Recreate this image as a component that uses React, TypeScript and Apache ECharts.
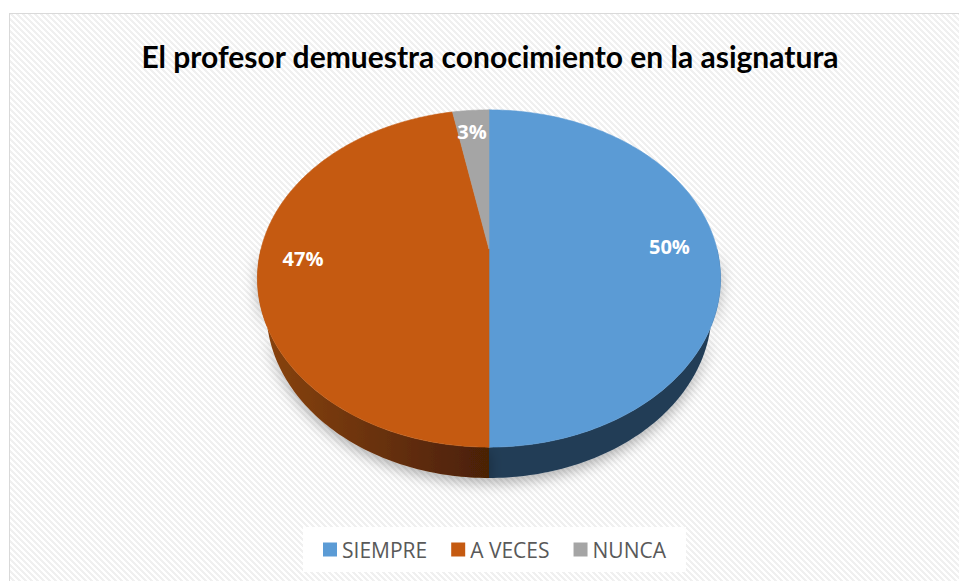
import React, { useEffect, useRef } from "react";
import * as echarts from "echarts";

// ---- data ----
const categories = ["SIEMPRE", "A VECES", "NUNCA"];
const values = [50, 47, 3];
const titleText = "El profesor demuestra conocimiento en la asignatura";

// ---- style ----
const topColors = ["#5B9BD5", "#C55A11", "#A5A5A5"];
const sideFills: any[] = [
  "#243E57",
  {
    type: "linear",
    x: 0,
    y: 0,
    x2: 1,
    y2: 0,
    colorStops: [
      { offset: 0, color: "#8A4411" },
      { offset: 1, color: "#4A2006" },
    ],
  },
  "#5E5E5E",
];

// perspective projection parameters (pixels)
const CX = 489;
const CY = 249;
const S = 228;
const SIN_A = 0.717;
const COS_A = 0.697;
const RP = 0.251;
const H = 0.216;
const LABEL_R = 0.8;

function proj(thetaDeg: number, rho: number, y: number): number[] {
  const t = (thetaDeg * Math.PI) / 180;
  const X = rho * Math.sin(t);
  const Z = rho * Math.cos(t);
  const v = y * COS_A + Z * SIN_A;
  const k = 1 + RP * (Z * COS_A - y * SIN_A);
  return [CX + (S * X) / k, CY - (S * v) / k];
}

const total = values.reduce((a, b) => a + b, 0);
const cumulative: number[] = [0];
values.forEach((v, i) => cumulative.push(cumulative[i] + v));

function makeRender(i: number) {
  return (params: any, api: any) => {
    const v = api.value(0);
    const startDeg = (cumulative[i] / total) * 360;
    const endDeg = startDeg + (v / total) * 360;
    const children: any[] = [];

    // side (front rim) face
    const a = Math.max(startDeg, 90);
    const b = Math.min(endDeg, 270);
    if (a < b) {
      const pts: number[][] = [];
      const n = Math.max(2, Math.ceil(b - a));
      for (let j = 0; j <= n; j++) pts.push(proj(a + ((b - a) * j) / n, 1, 0));
      for (let j = n; j >= 0; j--) pts.push(proj(a + ((b - a) * j) / n, 1, -H));
      children.push({
        type: "polygon",
        z2: 1,
        shape: { points: pts },
        style: {
          fill: sideFills[i],
          stroke: "none",
          shadowBlur: 14,
          shadowOffsetY: 5,
          shadowColor: "rgba(0,0,0,0.3)",
        },
      });
    }

    // top face
    const tp: number[][] = [proj(0, 0, 0)];
    const m = Math.max(2, Math.ceil(endDeg - startDeg));
    for (let j = 0; j <= m; j++)
      tp.push(proj(startDeg + ((endDeg - startDeg) * j) / m, 1, 0));
    children.push({
      type: "polygon",
      z2: 10,
      shape: { points: tp },
      style: { fill: topColors[i], stroke: topColors[i], lineWidth: 0.6 },
    });

    // label
    const mid = (startDeg + endDeg) / 2;
    const lp = proj(mid, LABEL_R, 0);
    children.push({
      type: "text",
      z2: 20,
      x: lp[0] - 2,
      y: lp[1] - 3,
      style: {
        text: Math.round((v / total) * 100) + "%",
        fill: "#ffffff",
        font: 'bold 20px "Open Sans"',
        align: "center",
        verticalAlign: "middle",
      },
    });

    return { type: "group", children };
  };
}

export default function App() {
  const ref = useRef<HTMLDivElement>(null);
  useEffect(() => {
    if (!ref.current) return;
    const chart = echarts.init(ref.current, null, { renderer: "svg" });
    chart.setOption({
      animation: false,
      backgroundColor: "transparent",
      title: {
        text: titleText,
        left: 485,
        top: 36,
        textAlign: "center",
        textStyle: {
          fontFamily: "Lato",
          fontWeight: "bold",
          fontSize: 30,
          color: "#000000",
        },
      },
      legend: {
        data: categories,
        left: 303,
        top: 527,
        padding: [12, 20],
        backgroundColor: "#ffffff",
        itemWidth: 14,
        itemHeight: 14,
        itemGap: 24,
        icon: "rect",
        selectedMode: false,
        textStyle: {
          fontFamily: "Open Sans",
          fontSize: 21,
          color: "#595959",
        },
      },
      series: categories.map((name, i) => ({
        type: "custom",
        name,
        coordinateSystem: "none",
        itemStyle: { color: topColors[i] },
        data: [[values[i]]],
        renderItem: makeRender(i),
      })),
    });
    return () => chart.dispose();
  }, []);

  return (
    <div
      style={{
        position: "absolute",
        left: 0,
        top: 0,
        width: 959,
        height: 581,
        background: "#ffffff",
        overflow: "hidden",
      }}
    >
      <div
        style={{
          position: "absolute",
          left: 9,
          top: 13,
          width: 960,
          height: 580,
          boxSizing: "border-box",
          borderLeft: "1px solid #d9d9d9",
          borderTop: "1px solid #d9d9d9",
          background:
            "repeating-linear-gradient(45deg, #ffffff 0px, #ffffff 2.1px, #f0f0f0 2.1px, #f0f0f0 4.24px)",
        }}
      />
      <div
        ref={ref}
        style={{ position: "absolute", left: 0, top: 0, width: 959, height: 581 }}
      />
    </div>
  );
}
